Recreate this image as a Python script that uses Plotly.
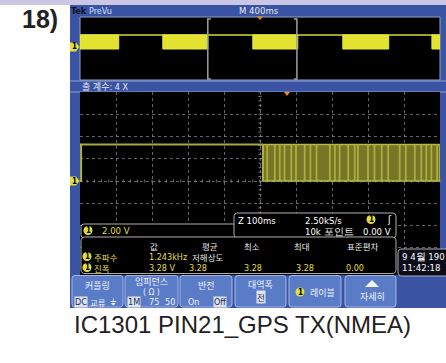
import plotly.graph_objects as go

# ---------------- data ----------------
# Preview record: M 400ms/div -> 4 s shown; channel 1 UART bursts (NMEA, 1 Hz)
preview_burst_start_s = [0.00, 0.92, 1.92, 2.92, 3.91]
preview_burst_end_s = [0.43, 1.42, 2.42, 3.43, 4.00]
preview_zoom_window_s = [1.42, 2.41]
preview_trigger_s = 2.0
high_level_v = 3.28
low_level_v = 0.0

# Zoomed view: Z 100ms/div -> 1000 ms shown
main_burst_start_ms = [-10, 508]
main_burst_end_ms = [3, 1000]
main_stripe_ms = [508, 520, 541, 555, 568, 587, 600, 624, 640, 657, 694, 708, 721, 745,
                  763, 772, 800, 818, 838, 856, 888, 905, 930, 948, 962, 976, 992]
main_trigger_ms = 575

# Readouts
vertical_scale = "2.00 V"
horiz_scale = "Z 100ms"
sample_rate = "2.50kS/s"
record_len = "10k 포인트"
trigger_level = "0.00 V"
meas_headers = ["값", "평균", "최소", "최대", "표준편차"]
meas_names = ["주파수", "진폭"]
meas_freq = ["1.243kHz", "저해상도"]
meas_amp = ["3.28 V", "3.28", "3.28", "3.28", "0.00"]
date_lines = ["9 4월 190", "11:42:18"]
caption = "IC1301 PIN21_GPS TX(NMEA)"
fig_label = "18)"

# ---------------- helpers ----------------
W, H = 446, 363
def X(p): return p / W
def Y(p): return 1 - p / H

shapes = []
annots = []

def rect(x0, y0, x1, y1, fill, line=None, lw=0, layer="below"):
    shapes.append(dict(type="rect", xref="paper", yref="paper",
                       x0=X(x0), x1=X(x1), y0=Y(y1), y1=Y(y0),
                       fillcolor=fill, layer=layer,
                       line=dict(color=line or fill, width=lw)))

def path(pts, fill, line=None, lw=0, layer="above", close=True):
    d = "M " + " L ".join(f"{X(a):.5f},{Y(b):.5f}" for a, b in pts)
    if close:
        d += " Z"
    shapes.append(dict(type="path", xref="paper", yref="paper", path=d,
                       fillcolor=fill, layer=layer,
                       line=dict(color=line or fill, width=lw)))

def rrect(x0, y0, x1, y1, r, fill, line=None, lw=1, layer="above"):
    def P(a, b): return f"{X(a):.5f},{Y(b):.5f}"
    d = (f"M {P(x0+r,y0)} L {P(x1-r,y0)} Q {P(x1,y0)} {P(x1,y0+r)} "
         f"L {P(x1,y1-r)} Q {P(x1,y1)} {P(x1-r,y1)} L {P(x0+r,y1)} "
         f"Q {P(x0,y1)} {P(x0,y1-r)} L {P(x0,y0+r)} Q {P(x0,y0)} {P(x0+r,y0)} Z")
    shapes.append(dict(type="path", xref="paper", yref="paper", path=d,
                       fillcolor=fill, layer=layer,
                       line=dict(color=line or fill, width=lw)))

def line(x0, y0, x1, y1, color, w=1, layer="above"):
    shapes.append(dict(type="line", xref="paper", yref="paper",
                       x0=X(x0), x1=X(x1), y0=Y(y0), y1=Y(y1),
                       layer=layer, line=dict(color=color, width=w)))

SCOPE = "Liberation Sans Narrow, DejaVu Sans Condensed, Roboto, sans-serif"
KR = "Noto Sans CJK KR, sans-serif"

def txt(x, y, s, size=9, color="white", anchor="left", family=SCOPE, bg=None):
    a = dict(x=X(x), y=Y(y), xref="paper", yref="paper", text=s, showarrow=False,
             xanchor=anchor, yanchor="middle",
             font=dict(size=size, color=color, family=family), borderpad=0)
    if bg:
        a["bgcolor"] = bg
    annots.append(a)

YEL = "#e4de3c"
BLUE = "#3a53a2"
BTN = "#5a7bc6"

# ---------------- background / frames ----------------
rect(0, 0, W, 5, "#c9c7e3")
rect(70, 5, W, 308, BLUE)
rect(80, 17, 440, 80, "black", line="#8da2cf", lw=1)
line(70, 81, 446, 81, "#8da2cf", 1, layer="below")
line(70, 92, 446, 92, "#8da2cf", 1, layer="below")
rect(80, 92, 440, 275, "black")

# grid centre tick marks (main view)
for i in range(51):
    xx = 80 + i * 7.2
    line(xx, 179.5, xx, 182.5, "rgba(150,150,150,0.8)", 1, layer="below")
for i in range(41):
    yy = 92 + i * 4.45
    line(258.5, yy, 261.5, yy, "rgba(150,150,150,0.8)", 1, layer="below")

# bracket showing zoom window on the preview
def pvx(t): return 80 + (t / 4.0) * 360
bx0, bx1 = pvx(preview_zoom_window_s[0]), pvx(preview_zoom_window_s[1])
path([(bx0 + 3, 19), (bx0, 19), (bx0, 79), (bx0 + 3, 79)], "rgba(0,0,0,0)", "#a0a0a0", 1.5, close=False)
path([(bx1 - 3, 19), (bx1, 19), (bx1, 79), (bx1 - 3, 79)], "rgba(0,0,0,0)", "#a0a0a0", 1.5, close=False)

# trigger markers
tx = pvx(preview_trigger_s)
path([(tx - 3, 16.5), (tx + 3, 16.5), (tx, 20)], "#f08a1c")
mx = 80 + main_trigger_ms / 1000 * 360
path([(mx - 3, 92), (mx + 3, 92), (mx, 96)], "#f08a1c")

# channel 1 ground tags
for c in (47, 181):
    path([(70, c - 4.5), (76, c - 4.5), (79.5, c), (76, c + 4.5), (70, c + 4.5)], YEL)
    txt(74.5, c, "<b>1</b>", 8, "black", "center")

# header texts
txt(70, 11, "<b>Tek</b>", 9, "#101020")
txt(87.5, 11, "PreVu", 9, "#cfe0ff")
txt(238, 11, "M 400ms", 9.5, "#e8e8f0")
txt(81, 86.5, "출 계수: 4 X", 9, "#e8e8f0", family="DejaVu Sans Condensed, Noto Sans CJK KR, sans-serif")

# ---------------- readout panels ----------------
rrect(81, 224, 236, 238, 3, "black", "#b0b0b0", 1)
rrect(234, 213, 396, 238, 4, "black", "#b0b0b0", 1)
rrect(81, 237, 396, 273.5, 4, "black", "#b0b0b0", 1)

def badge(x, y):
    shapes.append(dict(type="circle", xref="paper", yref="paper",
                       x0=X(x - 4.5), x1=X(x + 4.5), y0=Y(y + 4.5), y1=Y(y - 4.5),
                       fillcolor=YEL, line=dict(color=YEL, width=0), layer="above"))
    txt(x, y, "<b>1</b>", 8, "black", "center")

badge(88, 230.5)
txt(101, 230.5, vertical_scale, 9.5, YEL)
txt(237, 220, horiz_scale, 9.5)
txt(304, 220, sample_rate, 9.5)
txt(304, 231, record_len, 9.5)
badge(371, 219.5)
txt(386, 219.5, "ʃ", 10)
txt(392, 231, trigger_level, 9.5, anchor="right")

hx = [154, 210, 252, 302, 362]
for h, x in zip(meas_headers, hx):
    txt(x, 246, h, 8.5, "#e8e8e8", "center", KR)
badge(87, 256.5)
badge(87, 267.5)
txt(93, 256.5, meas_names[0], 8.5, YEL, family=KR)
txt(93, 267.5, meas_names[1], 8.5, YEL, family=KR)
txt(148, 256.5, meas_freq[0], 9, YEL)
txt(191, 256.5, meas_freq[1], 8.5, "#e0e0e0", family=KR)
ax = [148, 188, 243, 295, 345]
for v, x in zip(meas_amp, ax):
    txt(x, 267.5, v, 9, YEL)

# date box
rrect(398, 249, 452, 276, 4, "#0c0c18", "#b0b0b0", 1)
txt(401, 256.5, date_lines[0], 9.5)
txt(401, 267, date_lines[1], 9.5)

# ---------------- buttons ----------------
btns = [(72, 123), (125, 178), (180, 232), (235, 286), (289, 341), (345, 396)]
for x0, x1 in btns:
    rrect(x0, 275.5, x1, 307, 3, BTN, "#a6b9e8", 1)

txt(97.5, 285, "커플링", 9, "#f0f4ff", "center", KR)
txt(73.5, 302, "DC", 9, "#1a2a60", bg="#dde2ee")
txt(89, 302, "교류", 8.5, "#f0f4ff", family=KR)
txt(109, 302, "⏚", 9, "#f0f4ff", family="DejaVu Sans")
txt(151.5, 281, "임피던스", 9, "#f0f4ff", "center", KR)
txt(151.5, 292, "( Ω )", 8.5, "#f0f4ff", "center")
txt(127, 302, "1M", 9, "#1a2a60", bg="#dde2ee")
txt(148, 302, "75", 9, "#f0f4ff")
txt(164, 302, "50", 9, "#f0f4ff")
txt(206, 285, "반전", 9, "#f0f4ff", "center", KR)
txt(187, 302, "On", 9, "#f0f4ff")
txt(213, 302, "Off", 9, "#1a2a60", bg="#dde2ee")
txt(260.5, 284, "대역폭", 9, "#f0f4ff", "center", KR)
txt(260.5, 297, "전", 8.5, "#1a2a60", "center", KR, bg="#dde2ee")
badge(300, 292)
txt(309, 292, "레이블", 9, "#f0f4ff", family=KR)
path([(365, 287), (379, 287), (372, 280)], "#f4f6ff")
txt(372, 296, "자세히", 9, "#f0f4ff", "center", KR)

# caption and figure label
txt(73, 324, caption, 24, "#222222", family="Liberation Sans, Arial, sans-serif")
txt(21, 18.5, "<b>" + fig_label + "</b>", 25, "#222222", family="Liberation Sans, Arial, sans-serif")

# ---------------- traces ----------------
fig = go.Figure()

# preview: idle high line + bursts
fig.add_trace(go.Scatter(x=[0, 4], y=[high_level_v, high_level_v], mode="lines",
                         line=dict(color="#d8d83a", width=1.5),
                         xaxis="x", yaxis="y", hoverinfo="skip", showlegend=False))
bx, by = [], []
for s, e in zip(preview_burst_start_s, preview_burst_end_s):
    bx += [s, s, e, e, s, None]
    by += [low_level_v, high_level_v, high_level_v, low_level_v, low_level_v, None]
fig.add_trace(go.Scatter(x=bx, y=by, mode="lines", fill="toself",
                         fillcolor="rgb(226,226,48)", line=dict(color="rgb(232,232,60)", width=1),
                         xaxis="x", yaxis="y", hoverinfo="skip", showlegend=False))

# main: idle high line between bursts
ix, iy = [], []
for e, s in zip(main_burst_end_ms[:-1], main_burst_start_ms[1:]):
    ix += [e, e, s, None]
    iy += [low_level_v, high_level_v, high_level_v, None]
fig.add_trace(go.Scatter(x=ix, y=iy, mode="lines",
                         line=dict(color="rgb(170,170,60)", width=2),
                         xaxis="x2", yaxis="y2", hoverinfo="skip", showlegend=False))
mbx, mby = [], []
for s, e in zip(main_burst_start_ms, main_burst_end_ms):
    mbx += [s, s, e, e, s, None]
    mby += [low_level_v, high_level_v, high_level_v, low_level_v, low_level_v, None]
fig.add_trace(go.Scatter(x=mbx, y=mby, mode="lines", fill="toself",
                         fillcolor="rgb(118,118,38)", line=dict(color="rgb(185,185,68)", width=1.5),
                         xaxis="x2", yaxis="y2", hoverinfo="skip", showlegend=False))
sx, sy = [], []
for t in main_stripe_ms:
    sx += [t, t, None]
    sy += [low_level_v, high_level_v, None]
fig.add_trace(go.Scatter(x=sx, y=sy, mode="lines",
                         line=dict(color="rgba(178,178,66,0.9)", width=1.8),
                         xaxis="x2", yaxis="y2", hoverinfo="skip", showlegend=False))

hidden = dict(showticklabels=False, ticks="", zeroline=False, showline=False, fixedrange=True)
fig.update_layout(
    width=W, height=H, margin=dict(l=0, r=0, t=0, b=0),
    paper_bgcolor="white", plot_bgcolor="rgba(0,0,0,0)",
    xaxis=dict(domain=[X(80), X(440)], range=[0, 4], showgrid=False, **hidden),
    yaxis=dict(domain=[Y(80), Y(17)], range=[-(80 - 49) / 4.27, (49 - 17) / 4.27], showgrid=False, **hidden),
    xaxis2=dict(domain=[X(80), X(440)], range=[0, 1000], dtick=100, showgrid=True,
                gridcolor="rgba(135,135,135,0.75)", griddash="dot", gridwidth=1, anchor="y2", **hidden),
    yaxis2=dict(domain=[Y(270), Y(92)], range=[-8, 8], dtick=2, showgrid=True,
                gridcolor="rgba(135,135,135,0.75)", griddash="dot", gridwidth=1, anchor="x2", **hidden),
    shapes=shapes, annotations=annots, showlegend=False,
)
fig.write_html("out.html", config={"displayModeBar": False},
               post_script="document.body.style.margin='0';document.body.style.overflow='hidden';")
